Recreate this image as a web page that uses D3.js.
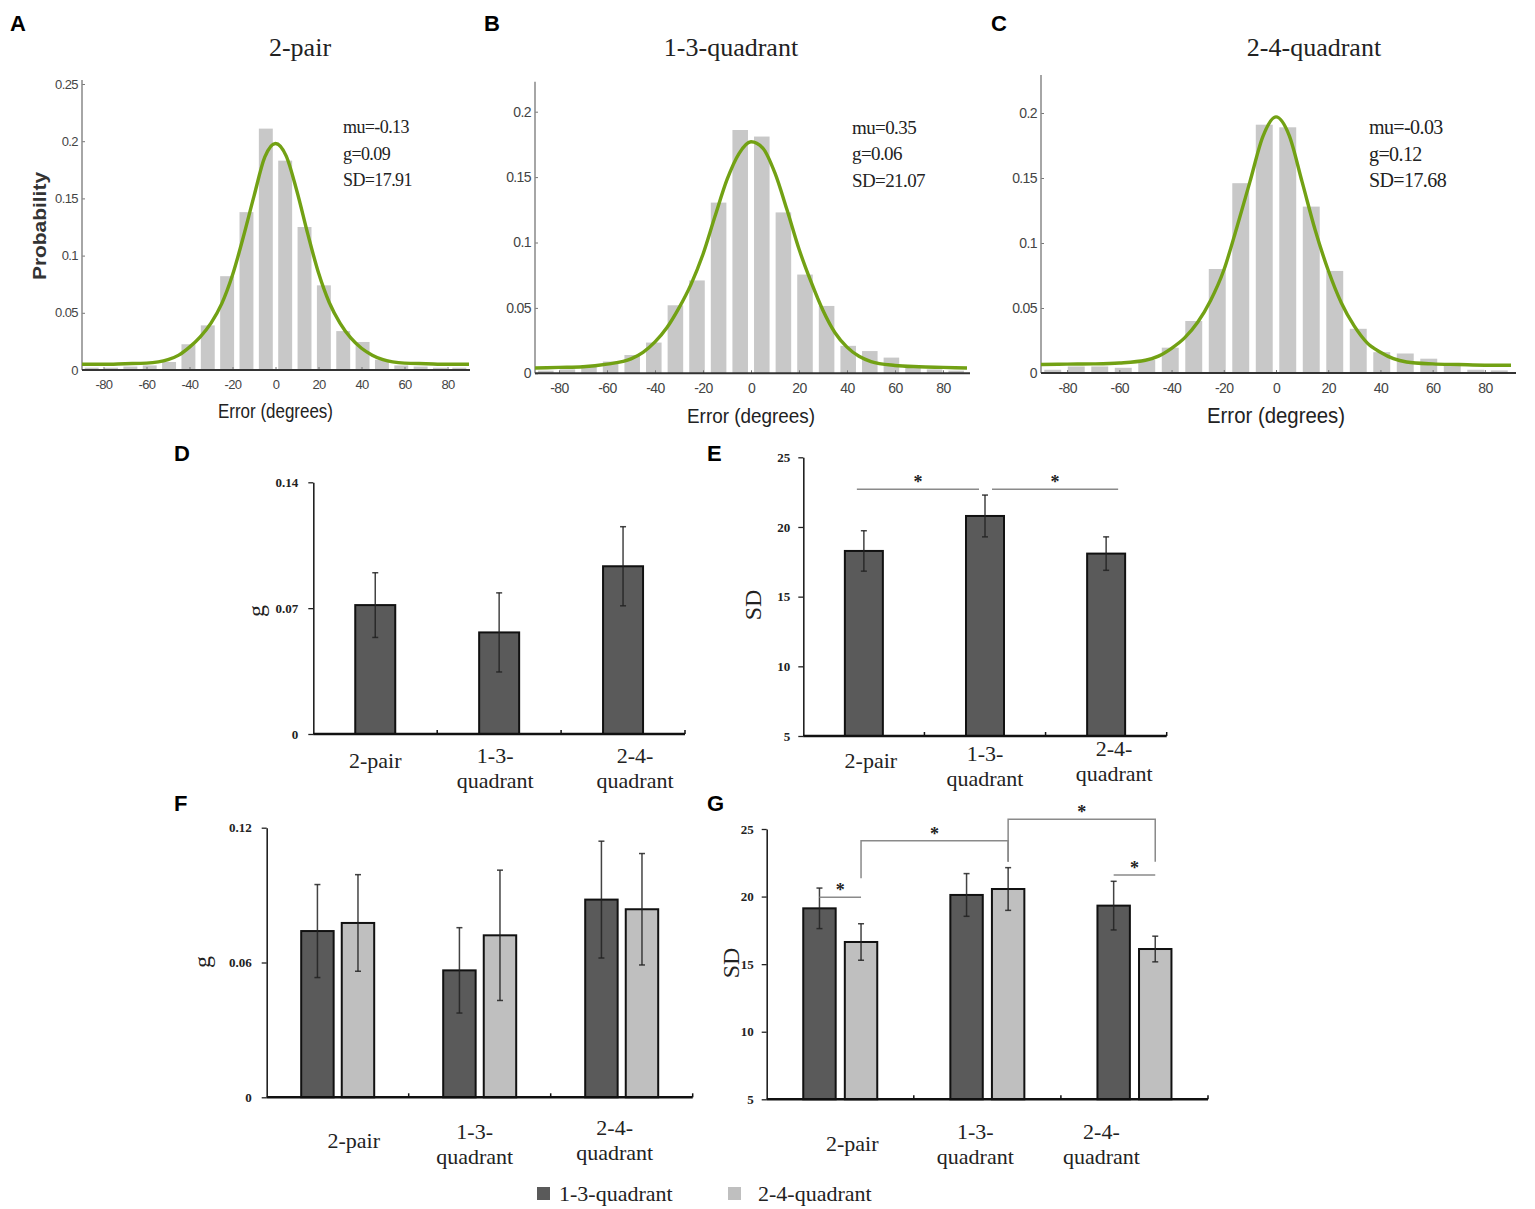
<!DOCTYPE html>
<html>
<head>
<meta charset="utf-8">
<script src="https://cdn.jsdelivr.net/npm/d3@7"></script>
<style>
  body { margin: 0; background: #fff; }
</style>
</head>
<body>
<div id="chart"></div>
<script>
// ---- data ----

// histogram bins (degrees), 9 degree wide
const binCenters = [-85.5, -76.5, -67.5, -58.5, -49.5, -40.5, -31.5, -22.5, -13.5, -4.5,
                    4.5, 13.5, 22.5, 31.5, 40.5, 49.5, 58.5, 67.5, 76.5, 85.5];
const hist2pair = [0.002, 0.002, 0.003, 0.004, 0.007, 0.0225, 0.039, 0.082, 0.138, 0.211,
                   0.183, 0.125, 0.074, 0.034, 0.0245, 0.009, 0.004, 0.003, 0.002, 0.002];
const hist13 = [0.002, 0.003, 0.006, 0.009, 0.014, 0.0235, 0.052, 0.071, 0.1305, 0.186,
                0.181, 0.123, 0.0755, 0.0515, 0.021, 0.017, 0.012, 0.005, 0.003, 0.002];
const hist24 = [0.0025, 0.005, 0.005, 0.004, 0.010, 0.0195, 0.040, 0.080, 0.146, 0.191,
                0.189, 0.128, 0.0785, 0.034, 0.016, 0.015, 0.011, 0.007, 0.0025, 0.002];

// fitted curves (green), read at these errors
const fitX = [-90, -80, -70, -60, -50, -45, -40, -35, -30, -25, -20, -15, -10, -5, 0,
              5, 10, 15, 20, 25, 30, 35, 40, 45, 50, 60, 70, 80, 90];
const fit2pair = [0.005, 0.005, 0.0055, 0.006, 0.009, 0.013, 0.020, 0.029, 0.041, 0.058, 0.083, 0.116, 0.152, 0.186, 0.198,
                  0.187, 0.156, 0.119, 0.085, 0.059, 0.041, 0.028, 0.019, 0.013, 0.009, 0.006, 0.0055, 0.005, 0.005];
const fit13 = [0.004, 0.0045, 0.005, 0.007, 0.011, 0.016, 0.024, 0.035, 0.050, 0.068, 0.091, 0.120, 0.148, 0.168, 0.177,
               0.172, 0.153, 0.125, 0.095, 0.070, 0.048, 0.031, 0.020, 0.013, 0.009, 0.006, 0.005, 0.0045, 0.004];
const fit24 = [0.0065, 0.0068, 0.007, 0.0077, 0.0098, 0.013, 0.019, 0.027, 0.039, 0.056, 0.079, 0.112, 0.147, 0.182, 0.197,
               0.183, 0.147, 0.110, 0.079, 0.054, 0.036, 0.023, 0.016, 0.011, 0.0085, 0.007, 0.0065, 0.006, 0.006];

const statNames = ["mu", "g", "SD"];
const stats2pair = ["-0.13", "0.09", "17.91"];
const stats13 = ["0.35", "0.06", "21.07"];
const stats24 = ["-0.03", "0.12", "17.68"];

const xTicks = [-80, -60, -40, -20, 0, 20, 40, 60, 80];

// bar panels
const conditions = ["2-pair", "1-3-quadrant", "2-4-quadrant"];
const series = ["1-3-quadrant", "2-4-quadrant"];

const gMean = [0.0717, 0.0565, 0.0933];
const gErr = [0.018, 0.022, 0.022];
const sdMean = [18.28, 20.79, 18.09];
const sdErr = [1.45, 1.5, 1.2];

const g13 = [0.074, 0.0565, 0.088];
const g13Err = [0.0207, 0.019, 0.026];
const g24 = [0.0776, 0.0721, 0.0837];
const g24Err = [0.0215, 0.029, 0.0248];

const sd13 = [19.13, 20.12, 19.33];
const sd13Err = [1.5, 1.58, 1.8];
const sd24 = [16.64, 20.56, 16.12];
const sd24Err = [1.35, 1.58, 0.95];

// significance marks
const sigE = [
  { from: "2-pair", to: "1-3-quadrant", y: 22.7 },
  { from: "1-3-quadrant", to: "2-4-quadrant", y: 22.7 }
];
const sigG = [
  { from: ["2-pair", 0], to: ["2-pair", 1], top: 19.95 },
  { from: ["2-pair", 1], to: ["1-3-quadrant", 1], top: 24.13, leftFoot: 21.35, rightFoot: 22.58 },
  { from: ["1-3-quadrant", 1], to: ["2-4-quadrant", 1], top: 25.72, leftFoot: 22.58, rightFoot: 22.58 },
  { from: ["2-4-quadrant", 0], to: ["2-4-quadrant", 1], top: 21.6 }
];

// ---- drawing ----
const serif = "'Liberation Serif','Times New Roman',serif";
const sans = "'Liberation Sans',Arial,sans-serif";
const darkFill = "#5a5a5a";
const lightFill = "#bfbfbf";
const seriesFill = [darkFill, lightFill];

const svg = d3.select("#chart").append("svg")
    .attr("width", 1535)
    .attr("height", 1209);

const letters = [
  { t: "A", x: 10, y: 31 }, { t: "B", x: 484, y: 31 }, { t: "C", x: 991, y: 31 },
  { t: "D", x: 174, y: 461 }, { t: "E", x: 707, y: 461 },
  { t: "F", x: 174, y: 811 }, { t: "G", x: 707, y: 811 }
];
svg.selectAll("text.letter")
    .data(letters)
  .enter().append("text")
    .attr("class", "letter")
    .attr("x", d => d.x)
    .attr("y", d => d.y)
    .attr("font-family", sans)
    .attr("font-weight", "bold")
    .attr("font-size", 22)
    .text(d => d.t);

function histPanel(p) {
  const g = svg.append("g");
  const x = d3.scaleLinear().domain([-90, 90]).range(p.xRange);
  const y = d3.scaleLinear().domain([0, p.refVal]).range([p.y0, p.refPx]);
  const half = (binCenters[1] - binCenters[0]) * 0.36;

  g.selectAll(".bin")
      .data(binCenters)
    .enter().append("rect")
      .attr("class", "bin")
      .attr("x", d => x(d - half))
      .attr("width", d => x(d + half) - x(d - half))
      .attr("y", (d, i) => y(p.hist[i]))
      .attr("height", (d, i) => p.y0 - y(p.hist[i]))
      .attr("fill", "#c8c8c8");

  // y axis
  const ya = g.append("g")
      .attr("transform", `translate(${p.xRange[0]},0)`)
      .call(d3.axisLeft(y).tickValues(p.yTicks).tickSizeInner(-3).tickSizeOuter(0)
        .tickPadding(4).tickFormat(d => String(+d.toFixed(2))));
  ya.select(".domain").remove();
  ya.selectAll(".tick line").attr("stroke", "#777");
  ya.selectAll("text").attr("font-family", sans).attr("font-size", p.tickSize)
      .attr("fill", "#444").attr("letter-spacing", -0.6);
  g.append("line")
      .attr("x1", p.xRange[0]).attr("x2", p.xRange[0])
      .attr("y1", p.y0).attr("y2", p.axisTop)
      .attr("stroke", "#888").attr("stroke-width", 1.5);

  // x axis
  const xa = g.append("g")
      .attr("transform", `translate(0,${p.y0})`)
      .call(d3.axisBottom(x).tickValues(xTicks).tickSizeInner(-3).tickSizeOuter(0)
        .tickPadding(10).tickFormat(d => String(d)));
  xa.select(".domain").remove();
  xa.selectAll(".tick line").attr("stroke", "#777");
  xa.selectAll("text").attr("font-family", sans).attr("font-size", p.tickSize)
      .attr("fill", "#444").attr("letter-spacing", -0.6);
  g.append("line")
      .attr("x1", p.xRange[0]).attr("x2", p.xEnd)
      .attr("y1", p.y0).attr("y2", p.y0)
      .attr("stroke", "#333").attr("stroke-width", 2);

  // fitted curve
  const line = d3.line()
      .x((d, i) => x(fitX[i]))
      .y(d => y(d))
      .curve(d3.curveMonotoneX);
  g.append("path")
      .datum(p.fit)
      .attr("d", line)
      .attr("fill", "none")
      .attr("stroke", "#72a114")
      .attr("stroke-width", 3.4);

  // title
  g.append("text")
      .attr("x", p.titleX).attr("y", 47)
      .attr("dominant-baseline", "central")
      .attr("text-anchor", "middle")
      .attr("font-family", serif).attr("font-size", 26).attr("fill", "#222")
      .text(p.title);

  // fit parameters
  g.selectAll(".stat")
      .data(p.stats)
    .enter().append("text")
      .attr("class", "stat")
      .attr("x", p.statX)
      .attr("y", (d, i) => 127 + i * 26.5)
      .attr("dominant-baseline", "central")
      .attr("font-family", serif).attr("font-size", p.statSize).attr("fill", "#222")
      .attr("letter-spacing", -0.6)
      .text((d, i) => `${statNames[i]}=${d}`);

  // x label
  g.append("text")
      .attr("x", x(0)).attr("y", p.xLabelY)
      .attr("dominant-baseline", "central")
      .attr("text-anchor", "middle")
      .attr("font-family", sans).attr("font-size", p.xLabelSize).attr("fill", "#222")
      .attr("textLength", p.xLabelLen).attr("lengthAdjust", "spacingAndGlyphs")
      .text("Error (degrees)");

  if (p.yLabel) {
    g.append("text")
        .attr("transform", `translate(40,226) rotate(-90)`)
        .attr("dominant-baseline", "central")
        .attr("text-anchor", "middle")
        .attr("font-family", sans).attr("font-weight", "bold")
        .attr("font-size", 18).attr("fill", "#333")
        .attr("textLength", 108).attr("lengthAdjust", "spacingAndGlyphs")
        .text(p.yLabel);
  }
}

histPanel({
  title: "2-pair", titleX: 300, hist: hist2pair, fit: fit2pair, stats: stats2pair, statX: 343, statSize: 18,
  xRange: [82, 469], xEnd: 470, y0: 370, refVal: 0.25, refPx: 84, axisTop: 80, tickSize: 13,
  yTicks: [0, 0.05, 0.1, 0.15, 0.2, 0.25], xLabelY: 411, xLabelSize: 20, xLabelLen: 115, yLabel: "Probability"
});
histPanel({
  title: "1-3-quadrant", titleX: 731, hist: hist13, fit: fit13, stats: stats13, statX: 852, statSize: 19,
  xRange: [535, 967], xEnd: 970, y0: 373.3, refVal: 0.2, refPx: 111.7, axisTop: 81.7, tickSize: 14,
  yTicks: [0, 0.05, 0.1, 0.15, 0.2], xLabelY: 415, xLabelSize: 21, xLabelLen: 128
});
histPanel({
  title: "2-4-quadrant", titleX: 1314, hist: hist24, fit: fit24, stats: stats24, statX: 1369, statSize: 20,
  xRange: [1041, 1511], xEnd: 1516, y0: 373, refVal: 0.2, refPx: 113, axisTop: 75, tickSize: 14,
  yTicks: [0, 0.05, 0.1, 0.15, 0.2], xLabelY: 415, xLabelSize: 22, xLabelLen: 138
});

function splitLabel(c) {
  const m = c.match(/^(\d-\d-)(.+)$/);
  return m ? [m[1], m[2]] : [c];
}

function barPanel(p) {
  const g = svg.append("g");
  const x = d3.scaleBand().domain(conditions).range(p.xRange);
  const y = d3.scaleLinear().domain(p.yDomain).range([p.y0, p.yTop]);
  const sub = d3.scaleBand()
      .domain(d3.range(p.means.length))
      .range([-p.groupW / 2, p.groupW / 2])
      .paddingInner(p.innerPad);
  const mid = c => x(c) + x.bandwidth() / 2;
  const barX = (c, s) => mid(c) + sub(s);
  const barC = (c, s) => barX(c, s) + sub.bandwidth() / 2;

  const rows = [];
  p.means.forEach((arr, s) => conditions.forEach((c, i) =>
    rows.push({ c, s, m: arr[i], e: p.errs[s][i] })));

  g.selectAll(".bar")
      .data(rows)
    .enter().append("rect")
      .attr("class", "bar")
      .attr("x", d => barX(d.c, d.s))
      .attr("width", sub.bandwidth())
      .attr("y", d => y(d.m))
      .attr("height", d => p.y0 - y(d.m))
      .attr("fill", d => seriesFill[d.s])
      .attr("stroke", "#111")
      .attr("stroke-width", 2);

  // error bars
  const eb = g.selectAll(".err")
      .data(rows)
    .enter().append("g")
      .attr("class", "err")
      .attr("stroke", "#222")
      .attr("stroke-width", 1.5)
      .attr("stroke-opacity", 0.85);
  eb.append("line")
      .attr("x1", d => barC(d.c, d.s)).attr("x2", d => barC(d.c, d.s))
      .attr("y1", d => y(d.m - d.e)).attr("y2", d => y(d.m + d.e));
  [-1, 1].forEach(sign => {
    eb.append("line")
        .attr("x1", d => barC(d.c, d.s) - 3).attr("x2", d => barC(d.c, d.s) + 3)
        .attr("y1", d => y(d.m + sign * d.e)).attr("y2", d => y(d.m + sign * d.e));
  });

  // y axis
  const ya = g.append("g")
      .attr("transform", `translate(${p.xRange[0]},0)`)
      .call(d3.axisLeft(y).tickValues(p.ticks).tickSize(5).tickSizeOuter(0)
        .tickPadding(p.tickPad).tickFormat(p.fmt));
  ya.select(".domain").attr("stroke", "#222").attr("stroke-width", 1.6);
  ya.selectAll(".tick line").attr("stroke", "#222").attr("stroke-width", 1.3);
  ya.selectAll("text").attr("font-family", serif).attr("font-weight", "bold")
      .attr("font-size", 13).attr("fill", "#222");

  // x axis with small ticks between categories
  g.append("line")
      .attr("x1", p.xRange[0]).attr("x2", p.xRange[1])
      .attr("y1", p.y0).attr("y2", p.y0)
      .attr("stroke", "#111").attr("stroke-width", 2.5);
  g.selectAll(".sep")
      .data(conditions)
    .enter().append("line")
      .attr("class", "sep")
      .attr("x1", d => x(d) + x.step()).attr("x2", d => x(d) + x.step())
      .attr("y1", p.y0).attr("y2", p.y0 - 4)
      .attr("stroke", "#111").attr("stroke-width", 1.5);

  // category labels
  conditions.forEach((c, i) => {
    splitLabel(c).forEach((t, j) => {
      g.append("text")
          .attr("x", mid(c) + p.labelDx[i])
          .attr("y", p.y0 + p.labelDy[i] + j * 25)
          .attr("dominant-baseline", "central")
          .attr("text-anchor", "middle")
          .attr("font-family", serif).attr("font-size", 22).attr("fill", "#222")
          .text(t);
    });
  });

  // y label
  g.append("text")
      .attr("transform", `translate(${p.yLabelPos[0]},${p.yLabelPos[1]}) rotate(-90)`)
      .attr("dominant-baseline", "central")
      .attr("text-anchor", "middle")
      .attr("font-family", serif).attr("font-size", p.yLabelSize).attr("fill", "#222")
      .text(p.yLabel);

  return { g, x, y, mid, barC };
}

function star(g, cx, lineY) {
  g.append("text")
      .attr("x", cx).attr("y", lineY - 1)
      .attr("text-anchor", "middle")
      .attr("font-family", serif).attr("font-weight", "bold")
      .attr("font-size", 18).attr("fill", "#222")
      .text("*");
}

const fmt2 = d => d === 0 ? "0" : d3.format(".2f")(d);

barPanel({
  xRange: [313.3, 685], y0: 734, yTop: 482.3, yDomain: [0, 0.14],
  ticks: [0, 0.07, 0.14], fmt: fmt2, tickPad: 10,
  means: [gMean], errs: [gErr], groupW: 40, innerPad: 0,
  labelDx: [0, -4, 12], labelDy: [26, 21, 21],
  yLabel: "g", yLabelPos: [256, 611], yLabelSize: 24
});

const E = barPanel({
  xRange: [803.3, 1166.7], y0: 736, yTop: 457.3, yDomain: [5, 25],
  ticks: [5, 10, 15, 20, 25], fmt: d => String(d), tickPad: 8,
  means: [sdMean], errs: [sdErr], groupW: 38, innerPad: 0,
  labelDx: [7, 0, 8], labelDy: [24, 17, 12],
  yLabel: "SD", yLabelPos: [753, 605], yLabelSize: 24
});
const sigEDx = [[-7, -6], [7, 12]];
sigE.forEach((s, i) => {
  const x1 = E.mid(s.from) + sigEDx[i][0];
  const x2 = E.mid(s.to) + sigEDx[i][1];
  const yy = E.y(s.y);
  E.g.append("line")
      .attr("x1", x1).attr("x2", x2).attr("y1", yy).attr("y2", yy)
      .attr("stroke", "#8a8a8a").attr("stroke-width", 1.5);
  star(E.g, (x1 + x2) / 2, yy);
});

barPanel({
  xRange: [266.7, 692.7], y0: 1097.3, yTop: 827.7, yDomain: [0, 0.12],
  ticks: [0, 0.06, 0.12], fmt: fmt2, tickPad: 10,
  means: [g13, g24], errs: [g13Err, g24Err], groupW: 73, innerPad: 0.2,
  labelDx: [16, -5, -7], labelDy: [43, 34, 30],
  yLabel: "g", yLabelPos: [202, 962], yLabelSize: 24
});

const G = barPanel({
  xRange: [766.7, 1208], y0: 1099.3, yTop: 829, yDomain: [5, 25],
  ticks: [5, 10, 15, 20, 25], fmt: d => String(d), tickPad: 8,
  means: [sd13, sd24], errs: [sd13Err, sd24Err], groupW: 74, innerPad: 0.22,
  labelDx: [12, -12, -33], labelDy: [44, 32, 32],
  yLabel: "SD", yLabelPos: [731, 963], yLabelSize: 24
});
sigG.forEach(s => {
  const x1 = G.barC(s.from[0], s.from[1]);
  const x2 = G.barC(s.to[0], s.to[1]);
  const top = G.y(s.top);
  let d;
  if (s.leftFoot !== undefined) {
    d = `M${x1},${G.y(s.leftFoot)}V${top}H${x2}V${G.y(s.rightFoot)}`;
  } else {
    d = `M${x1},${top}H${x2}`;
  }
  G.g.append("path")
      .attr("d", d)
      .attr("fill", "none")
      .attr("stroke", "#8a8a8a").attr("stroke-width", 1.5);
  star(G.g, (x1 + x2) / 2, top);
});

// legend
const legendX = [537, 728];
const legendTextDx = [22, 30];
const lg = svg.selectAll(".legend")
    .data(series)
  .enter().append("g")
    .attr("class", "legend")
    .attr("transform", (d, i) => `translate(${legendX[i]},1187)`);
lg.append("rect")
    .attr("width", 13).attr("height", 13)
    .attr("fill", (d, i) => seriesFill[i]);
lg.append("text")
    .attr("x", (d, i) => legendTextDx[i])
    .attr("y", 6.5)
    .attr("dominant-baseline", "central")
    .attr("font-family", serif).attr("font-size", 22).attr("fill", "#222")
    .text(d => d);
</script>
</body>
</html>
